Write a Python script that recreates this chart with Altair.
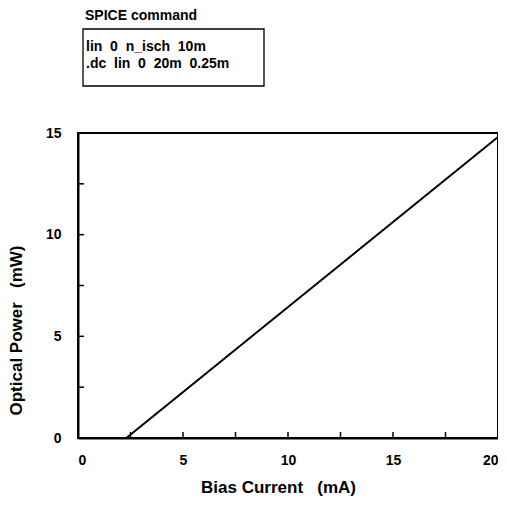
import altair as alt
import pandas as pd

# Data (laser diode L-I curve)
current_ma = [0.0, 2.3, 20.0]
power_mw = [0.0, 0.0, 14.8]

x_tick_vals = [2.5, 5, 7.5, 10, 12.5, 15, 17.5]
y_tick_vals = [2.5, 5, 7.5, 10, 12.5]
x_label_vals = [0, 5, 10, 15, 20]
y_label_vals = [0, 5, 10, 15]

NB = "\u00a0"
spice_title = "SPICE command"
spice_lines = [f"lin{NB}{NB}0{NB}{NB}n_isch{NB}{NB}10m", f".dc{NB}{NB}lin{NB}{NB}0{NB}{NB}20m{NB}{NB}0.25m"]
x_title = f"Bias Current{NB}{NB}{NB}(mA)"
y_title = f"Optical Power{NB}{NB}{NB}(mW)"

W, H = 420, 305
FONT = "Liberation Sans"

curve_df = pd.DataFrame({"current": current_ma, "power": power_mw})
xt_df = pd.DataFrame({"t": x_tick_vals})
yt_df = pd.DataFrame({"t": y_tick_vals})
one = pd.DataFrame({"a": [0]})

xscale = alt.Scale(domain=[0, 20], nice=False)
yscale = alt.Scale(domain=[0, 15], nice=False)

curve = alt.Chart(curve_df).mark_line(color="black", strokeWidth=2, clip=True).encode(
    x=alt.X("current:Q", scale=xscale,
            axis=alt.Axis(values=x_label_vals, ticks=False, grid=False,
                          domainColor="black", domainWidth=2,
                          labelFont=FONT, labelFontWeight="bold", labelFontSize=14,
                          labelColor="black", labelPadding=15,
                          title=x_title, titleFont=FONT,
                          titleFontWeight="bold", titleFontSize=17, titleColor="black",
                          titleX=200, titleY=49, titleBaseline="middle", titleAlign="center")),
    y=alt.Y("power:Q", scale=yscale,
            axis=alt.Axis(values=y_label_vals, ticks=False, grid=False,
                          domainColor="black", domainWidth=2,
                          labelFont=FONT, labelFontWeight="bold", labelFontSize=14,
                          labelColor="black", labelPadding=17,
                          title=y_title, titleFont=FONT,
                          titleFontWeight="bold", titleFontSize=17, titleColor="black",
                          titleAngle=270, titleX=-62, titleY=197,
                          titleBaseline="middle", titleAlign="center")),
)

xticks = alt.Chart(xt_df).mark_rule(color="black", strokeWidth=1.5).encode(
    x=alt.X("t:Q", scale=xscale),
    y=alt.value(H),
    y2=alt.value(H - 6),
)
yticks = alt.Chart(yt_df).mark_rule(color="black", strokeWidth=1.5).encode(
    y=alt.Y("t:Q", scale=yscale),
    x=alt.value(0),
    x2=alt.value(6),
)

box = alt.Chart(one).mark_rect(fill="white", fillOpacity=0, stroke="black", strokeWidth=1.3).encode(
    x=alt.value(5), x2=alt.value(186), y=alt.value(-104), y2=alt.value(-47)
)
text_style = dict(align="left", baseline="middle", font=FONT, fontWeight="bold",
                  fontSize=14, color="black")
t_title = alt.Chart(one).mark_text(**text_style).encode(
    x=alt.value(7), y=alt.value(-117), text=alt.value(spice_title)
)
t_l1 = alt.Chart(one).mark_text(**text_style).encode(
    x=alt.value(8), y=alt.value(-86), text=alt.value(spice_lines[0])
)
t_l2 = alt.Chart(one).mark_text(**text_style).encode(
    x=alt.value(8), y=alt.value(-69), text=alt.value(spice_lines[1])
)

chart = alt.layer(curve, xticks, yticks, box, t_title, t_l1, t_l2).properties(
    width=W, height=H,
    autosize=alt.AutoSizeParams(type="none"),
    padding={"left": 70, "top": 125, "right": 0, "bottom": 58},
    background="white",
).configure_view(stroke="black", strokeWidth=2)

chart.save("out.html", embed_options={"renderer": "svg", "actions": False})
